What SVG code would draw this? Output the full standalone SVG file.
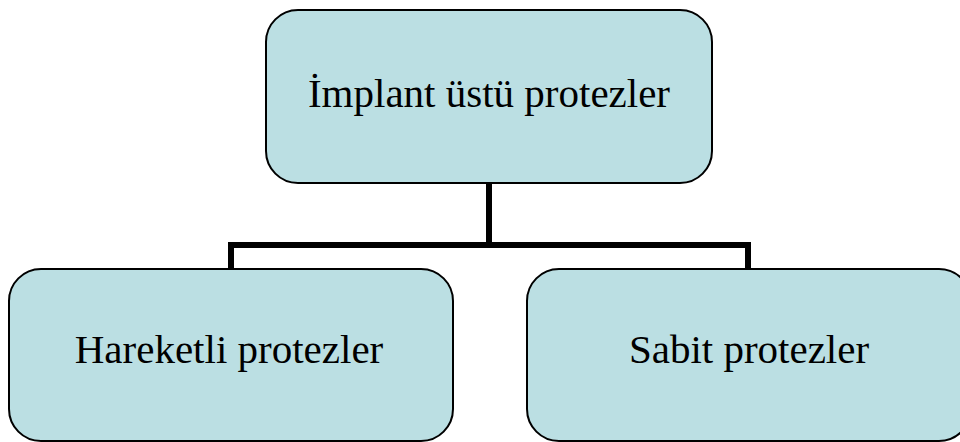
<svg xmlns="http://www.w3.org/2000/svg" width="960" height="442" viewBox="0 0 960 442">
<style>
.box{fill:#bbdfe3;stroke:#000;stroke-width:2}
.lbl{font-family:"Liberation Serif","Times New Roman",serif;font-size:41px;fill:#000;text-anchor:middle}
.conn{fill:none;stroke:#000;stroke-width:6;stroke-linejoin:miter}
</style>
<rect width="960" height="442" fill="#fff"/>
<g id="connectors">
<path class="conn" d="M489 183 V245 M231 269 V245 H748 V269"/>
</g>
<g id="top">
<rect class="box" x="266" y="10" width="446" height="173" rx="32"/>
<text class="lbl" x="489" y="107">İmplant üstü protezler</text>
</g>
<g id="left">
<rect class="box" x="9" y="269" width="444" height="172" rx="32"/>
<text class="lbl" x="229" y="363">Hareketli protezler</text>
</g>
<g id="right">
<rect class="box" x="527" y="269" width="444" height="172" rx="32"/>
<text class="lbl" x="749" y="363">Sabit protezler</text>
</g>
</svg>
